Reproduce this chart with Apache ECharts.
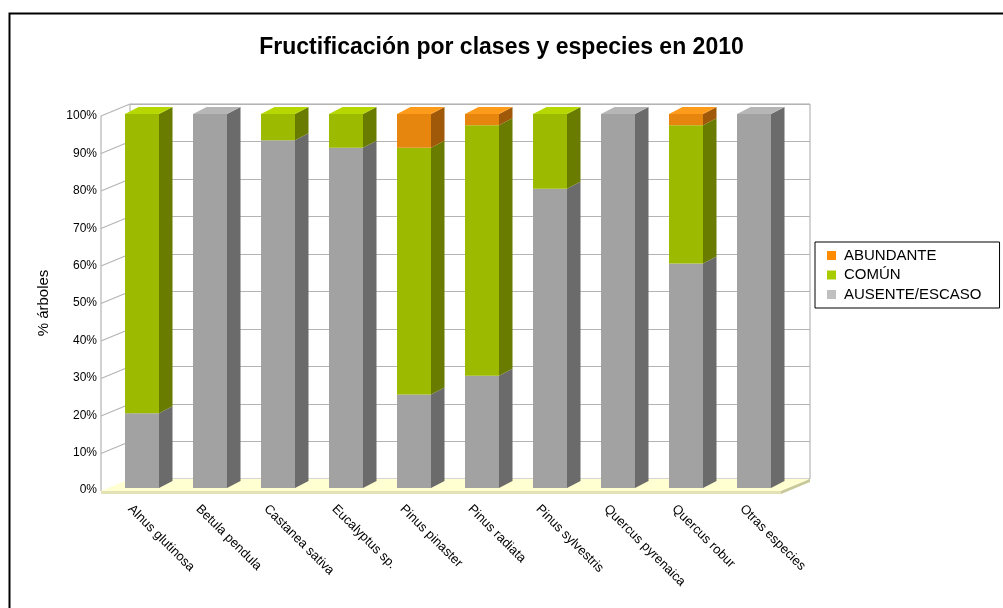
<!DOCTYPE html>
<html>
<head>
<meta charset="UTF-8"/>
<title>Fructificación 2010</title>
<script type="text/javascript" src="https://cdn.jsdelivr.net/npm/echarts@6/dist/echarts.min.js"></script>
<style>
  html, body { margin: 0; padding: 0; background: #fff; }
  #main { width: 1003px; height: 608px; }
</style>
</head>
<body>
<div id="main"></div>
<script>
// datos (% de arboles por clase)
var especies = ['Alnus glutinosa', 'Betula pendula', 'Castanea sativa', 'Eucalyptus sp.', 'Pinus pinaster',
    'Pinus radiata', 'Pinus sylvestris', 'Quercus pyrenaica', 'Quercus robur', 'Otras especies'];
var ausente   = [20, 100, 93, 91, 25, 30, 80, 100, 60, 100];
var comun     = [80, 0, 7, 9, 66, 67, 20, 0, 37, 0];
var abundante = [0, 0, 0, 0, 9, 3, 0, 0, 3, 0];
var ticks = [0, 10, 20, 30, 40, 50, 60, 70, 80, 90, 100];

var clases = [
    {name: 'AUSENTE/ESCASO', values: ausente, front: '#a2a2a2', side: '#6b6b6b', top: '#b6b6b6', legend: '#c0c0c0'},
    {name: 'COMÚN', values: comun, front: '#9cba00', side: '#697c00', top: '#b6d700', legend: '#a8cc00'},
    {name: 'ABUNDANTE', values: abundante, front: '#e6860f', side: '#a05809', top: '#ff9b1a', legend: '#ff8c00'}
];

var DX = 13.5, DY = -7;      // profundidad de las barras
var WX = -29, WY = 12;       // profundidad de la pared/suelo
var FONT = 'Liberation Sans, Arial';

function totalOf(i) {
    return ausente[i] + comun[i] + abundante[i];
}

var barSeries = clases.map(function (c, k) {
    var data = c.values.map(function (v, i) {
        var lo = 0;
        for (var j = 0; j < k; j++) lo += clases[j].values[i];
        var hi = lo + v;
        return [i, lo, hi, (v > 0 && hi >= totalOf(i)) ? 1 : 0];
    });
    return {
        name: c.name,
        type: 'custom',
        xAxisIndex: 0,
        yAxisIndex: 0,
        z: 5,
        data: data,
        renderItem: function (params, api) {
            var lo = api.value(1), hi = api.value(2);
            if (hi - lo <= 0) return;
            var p0 = api.coord([api.value(0), lo]);
            var p1 = api.coord([api.value(0), hi]);
            var w = api.size([1, 0])[0] * 0.5;
            var xl = p0[0] - w / 2, xr = p0[0] + w / 2;
            var children = [
                {type: 'rect', shape: {x: xl, y: p1[1], width: w, height: p0[1] - p1[1]},
                    style: {fill: c.front}},
                {type: 'polygon', shape: {points: [[xr, p1[1]], [xr + DX, p1[1] + DY], [xr + DX, p0[1] + DY], [xr, p0[1]]]},
                    style: {fill: c.side}}
            ];
            if (api.value(3)) {
                children.push({type: 'polygon',
                    shape: {points: [[xl, p1[1]], [xl + DX, p1[1] + DY], [xr + DX, p1[1] + DY], [xr, p1[1]]]},
                    style: {fill: c.top}});
            }
            return {type: 'group', children: children};
        }
    };
});

// pared izquierda y suelo
var wallSeries = {
    type: 'custom',
    xAxisIndex: 1,
    yAxisIndex: 1,
    z: 2,
    silent: true,
    data: ticks.map(function (t) { return [0, t]; }),
    renderItem: function (params, api) {
        var cs = params.coordSys;
        var y = api.coord([0, api.value(1)])[1];
        var children = [];
        if (api.value(1) > 0) {
            children.push({type: 'line', shape: {x1: cs.x, y1: y, x2: cs.x + WX, y2: y + WY},
                style: {stroke: '#b4b4b4', lineWidth: 1.2}});
        }
        if (params.dataIndex === 0) {
            var bx = cs.x, by = cs.y + cs.height, rx = cs.x + cs.width;
            children.push({type: 'line', shape: {x1: bx + WX, y1: cs.y + WY, x2: bx + WX, y2: by + WY},
                style: {stroke: '#b4b4b4', lineWidth: 1.2}});
            children.push({type: 'polygon',
                shape: {points: [[bx, by], [rx, by], [rx + WX, by + WY], [bx + WX, by + WY]]},
                style: {fill: '#ffffd2'}});
            children.push({type: 'polygon',
                shape: {points: [[bx + WX, by + WY], [rx + WX, by + WY], [rx + WX, by + WY + 3], [bx + WX, by + WY + 3]]},
                style: {fill: '#e2e2b4'}});
            children.push({type: 'polygon',
                shape: {points: [[rx + WX, by + WY], [rx, by], [rx, by + 3], [rx + WX, by + WY + 3]]},
                style: {fill: '#c8c89a'}});
        }
        return {type: 'group', children: children};
    }
};

var hidden = {show: false};

var option = {
    backgroundColor: '#fff',
    animation: false,
    title: {
        text: 'Fructificación por clases y especies en 2010',
        left: 'center',
        top: 31,
        textStyle: {fontFamily: FONT, fontSize: 23, fontWeight: 'bold', color: '#000'}
    },
    legend: {
        orient: 'vertical',
        left: 815,
        top: 242,
        padding: [6, 18, 6, 12],
        borderColor: '#000',
        borderWidth: 1,
        itemWidth: 9,
        itemHeight: 9,
        itemGap: 4.5,
        icon: 'rect',
        selectedMode: false,
        textStyle: {fontFamily: FONT, fontSize: 15, lineHeight: 15, color: '#000', padding: [0, 0, 0, 3]},
        data: [
            {name: 'ABUNDANTE', itemStyle: {color: clases[2].legend}},
            {name: 'COMÚN', itemStyle: {color: clases[1].legend}},
            {name: 'AUSENTE/ESCASO', itemStyle: {color: clases[0].legend}}
        ]
    },
    grid: [
        // barras (plano frontal)
        {left: 108, width: 680, top: 114, height: 374},
        // pared del fondo
        {left: 130, width: 680, top: 104, height: 375, show: true, borderColor: '#a8a8a8', borderWidth: 1},
        // eje de porcentajes
        {left: 101, width: 29, top: 116, height: 374},
        // etiquetas de especies
        {left: 96, width: 680, top: 114, height: 380}
    ],
    xAxis: [
        {type: 'category', gridIndex: 0, data: especies, axisLine: hidden, axisTick: hidden, axisLabel: hidden},
        {type: 'category', gridIndex: 1, data: especies, axisLine: hidden, axisTick: hidden, axisLabel: hidden},
        {type: 'value', gridIndex: 2, show: false},
        {type: 'category', gridIndex: 3, data: especies, axisLine: hidden, axisTick: hidden,
            axisLabel: {interval: 0, rotate: -45, margin: 13, fontFamily: FONT, fontSize: 13, color: '#000'}}
    ],
    yAxis: [
        {type: 'value', gridIndex: 0, min: 0, max: 100, interval: 10, show: false},
        {type: 'value', gridIndex: 1, min: 0, max: 100, interval: 10, axisLine: hidden, axisTick: hidden,
            axisLabel: hidden, splitLine: {lineStyle: {color: '#b4b4b4', width: 1.2}}},
        {type: 'value', gridIndex: 2, min: 0, max: 100, interval: 10,
            axisLine: hidden, axisTick: hidden, splitLine: hidden,
            axisLabel: {formatter: '{value}%', margin: 4, fontFamily: FONT, fontSize: 12, color: '#000'},
            name: '% árboles', nameLocation: 'middle', nameGap: 50, nameRotate: 90,
            nameTextStyle: {fontFamily: FONT, fontSize: 15, color: '#000'}},
        {type: 'value', gridIndex: 3, show: false}
    ],
    graphic: [
        {type: 'rect', left: 7, top: 11, shape: {width: 1100, height: 700},
            style: {fill: 'none', stroke: '#000', lineWidth: 2}, silent: true}
    ],
    series: [wallSeries].concat(barSeries)
};

var chart = echarts.init(document.getElementById('main'));
chart.setOption(option);
</script>
</body>
</html>
